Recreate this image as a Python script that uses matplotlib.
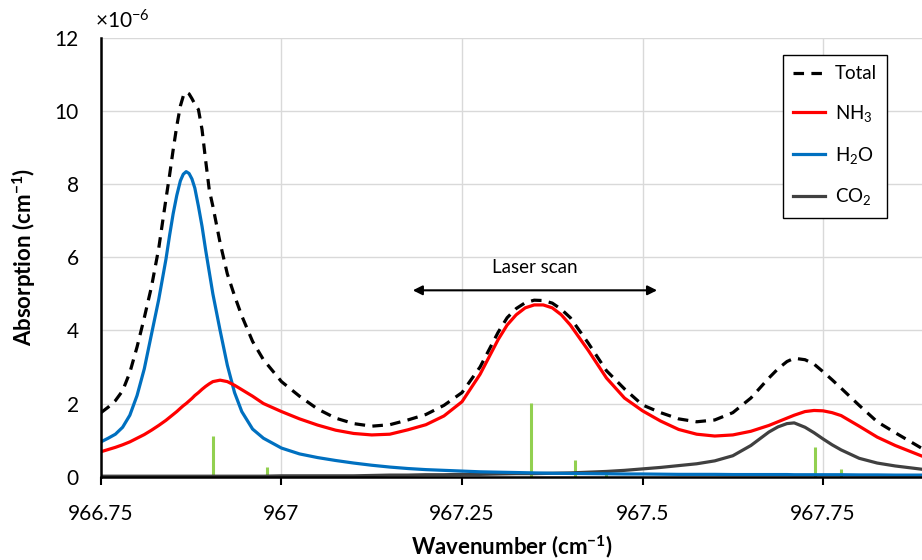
import matplotlib
matplotlib.use("Agg")
import matplotlib.pyplot as plt
from matplotlib.ticker import FixedLocator, FuncFormatter

plt.rcParams['font.family'] = ['Lato', 'DejaVu Sans']
plt.rcParams['mathtext.fontset'] = 'custom'
plt.rcParams['mathtext.rm'] = 'Lato'
plt.rcParams['mathtext.it'] = 'Lato:italic'
plt.rcParams['mathtext.bf'] = 'Lato:bold'

# wavenumber grid (cm-1); absorption values in units of 1e-6 cm-1
wn = [966.75, 966.76, 966.77, 966.78, 966.79, 966.80, 966.81, 966.82, 966.83,
      966.84, 966.845, 966.85, 966.855, 966.86, 966.864, 966.868, 966.872, 966.876,
      966.88, 966.885, 966.89, 966.895, 966.9, 966.905,
      966.915, 966.925, 966.935, 966.945, 966.96, 966.975, 967.0, 967.025, 967.05,
      967.075, 967.1, 967.125, 967.15, 967.175, 967.2, 967.225, 967.25, 967.275,
      967.3, 967.3125, 967.325, 967.3375, 967.35, 967.3625, 967.375, 967.3875, 967.4,
      967.425, 967.45, 967.475, 967.5, 967.525, 967.55, 967.575, 967.6, 967.625,
      967.65, 967.675,
      967.6875, 967.7, 967.71, 967.725, 967.7375, 967.75, 967.7625, 967.775, 967.8,
      967.825, 967.85, 967.887]

total = [1.75, 1.9, 2.08, 2.35, 2.85, 3.55, 4.35, 5.2, 6.25,
         7.6, 8.25, 8.95, 9.6, 10.15, 10.42, 10.53, 10.48, 10.35,
         10.2, 10.05, 9.5, 8.65, 7.85, 7.4,
         6.4, 5.55, 4.95, 4.4, 3.7, 3.2, 2.6, 2.2, 1.85,
         1.6, 1.45, 1.38, 1.42, 1.55, 1.7, 1.95, 2.3, 3.0,
         3.95, 4.35, 4.6, 4.76, 4.83, 4.82, 4.75, 4.58, 4.35,
         3.65, 2.9, 2.4, 1.96, 1.75, 1.58, 1.5, 1.55, 1.75,
         2.15, 2.7,
         2.95, 3.15, 3.24, 3.2, 3.08, 2.87, 2.65, 2.42, 1.95,
         1.5, 1.2, 0.77]

nh3 = [0.68, 0.74, 0.8, 0.87, 0.95, 1.05, 1.15, 1.27, 1.4,
       1.54, 1.62, 1.7, 1.78, 1.87, 1.94, 2.0, 2.07, 2.14,
       2.22, 2.3, 2.39, 2.47, 2.54, 2.6,
       2.64, 2.6, 2.5, 2.38, 2.2, 2.0, 1.78, 1.58, 1.41,
       1.27, 1.18, 1.14, 1.16, 1.28, 1.42, 1.66, 2.05, 2.8,
       3.75, 4.15, 4.43, 4.62, 4.7, 4.7, 4.62, 4.43, 4.15,
       3.45, 2.7, 2.15, 1.8, 1.52, 1.29, 1.16, 1.11, 1.14,
       1.24, 1.4,
       1.5, 1.6, 1.68, 1.78, 1.81, 1.8, 1.75, 1.67, 1.38,
       1.08, 0.85, 0.56]

h2o = [0.95, 1.05, 1.16, 1.35, 1.68, 2.22, 2.95, 3.9, 4.85,
       5.95, 6.6, 7.2, 7.7, 8.1, 8.28, 8.35, 8.3, 8.15,
       7.9, 7.4, 6.85, 6.2, 5.6, 5.0,
       4.0, 3.05, 2.3, 1.78, 1.3, 1.05, 0.78, 0.62, 0.52,
       0.44, 0.37, 0.31, 0.26, 0.22, 0.19, 0.17, 0.15, 0.13,
       0.12, 0.115, 0.11, 0.105, 0.1, 0.095, 0.09, 0.088, 0.085,
       0.08, 0.075, 0.07, 0.07, 0.065, 0.06, 0.06, 0.06, 0.055,
       0.055, 0.055,
       0.055, 0.055, 0.05, 0.05, 0.05, 0.05, 0.05, 0.05, 0.045,
       0.045, 0.04, 0.04]

co2 = [0.01, 0.01, 0.01, 0.01, 0.01, 0.01, 0.01, 0.01, 0.01,
       0.01, 0.01, 0.01, 0.01, 0.01, 0.01, 0.01, 0.01, 0.01,
       0.01, 0.01, 0.01, 0.01, 0.01, 0.01,
       0.01, 0.01, 0.01, 0.01, 0.01, 0.01, 0.02, 0.02, 0.02,
       0.02, 0.02, 0.03, 0.04, 0.04, 0.05, 0.05, 0.06, 0.06,
       0.07, 0.075, 0.08, 0.08, 0.08, 0.085, 0.09, 0.095, 0.1,
       0.12, 0.14, 0.17, 0.21, 0.25, 0.3, 0.35, 0.43, 0.57,
       0.85, 1.22,
       1.36, 1.45, 1.47, 1.35, 1.2, 1.03, 0.87, 0.73, 0.5,
       0.37, 0.29, 0.2]

# line positions (stick spectrum)
line_wn = [966.905, 966.98, 967.03, 967.346, 967.406, 967.449, 967.739, 967.775]
line_h = [1.11, 0.27, 0.05, 2.02, 0.45, 0.13, 0.8, 0.22]

xticks = [966.75, 967.0, 967.25, 967.5, 967.75]
yticks = [0, 2, 4, 6, 8, 10, 12]

fig = plt.figure(figsize=(9.22, 5.6), dpi=100)
ax = fig.add_axes([0.1095, 0.149, 0.8905, 0.7825])

ax.vlines(line_wn, 0, line_h, color='#92D050', lw=2.2, zorder=2)
ax.plot(wn, co2, color='#404040', lw=2.3, label='CO$_2$', zorder=3)
ax.plot(wn, h2o, color='#0070C0', lw=2.3, label='H$_2$O', zorder=3)
ax.plot(wn, nh3, color='#FF0000', lw=2.3, label='NH$_3$', zorder=4)
ax.plot(wn, total, color='black', lw=2.3, dashes=(3.3, 2.3), label='Total', zorder=5)

ax.set_xlim(966.75, 967.887)
ax.set_ylim(0, 12)
ax.xaxis.set_major_locator(FixedLocator(xticks))
ax.xaxis.set_major_formatter(FuncFormatter(lambda v, p: '{:g}'.format(round(v, 2))))
ax.yaxis.set_major_locator(FixedLocator(yticks))
ax.grid(True, color='#D9D9D9', lw=1)
ax.set_axisbelow(True)

for s in ['top', 'right']:
    ax.spines[s].set_visible(False)
for s in ['left', 'bottom']:
    ax.spines[s].set_linewidth(1.8)
    ax.spines[s].set_zorder(6)
ax.tick_params(axis='x', direction='out', length=6, width=1.5, labelsize=15, pad=14)
ax.tick_params(axis='y', length=0, labelsize=15, pad=16)

ax.set_xlabel(r'Wavenumber (cm$^{\mathbf{-1}}$)', fontsize=16, fontweight='bold', labelpad=6)
ax.set_ylabel(r'Absorption (cm$^{\mathbf{-1}}$)', fontsize=16, fontweight='bold', labelpad=12)
fig.text(0.103, 0.962, '×10$^{-6}$', fontsize=15, ha='left', va='center')

# laser scan range
ax.annotate('', xy=(967.178, 5.1), xytext=(967.524, 5.1),
            arrowprops=dict(arrowstyle='<|-|>', color='black', lw=1.5, mutation_scale=14))
ax.text(967.351, 5.72, 'Laser scan', fontsize=13.5, ha='center', va='center')

handles, labels = ax.get_legend_handles_labels()
order = [3, 2, 1, 0]
leg = ax.legend([handles[i] for i in order], [labels[i] for i in order],
                loc='upper left', bbox_to_anchor=(0.8307, 0.962), borderaxespad=0,
                fontsize=13.5, labelspacing=1.1, handlelength=1.7, handletextpad=0.5,
                borderpad=0.55, fancybox=False, framealpha=1, edgecolor='black')
leg.get_frame().set_linewidth(1.0)

fig.savefig('out.png', dpi=100)
